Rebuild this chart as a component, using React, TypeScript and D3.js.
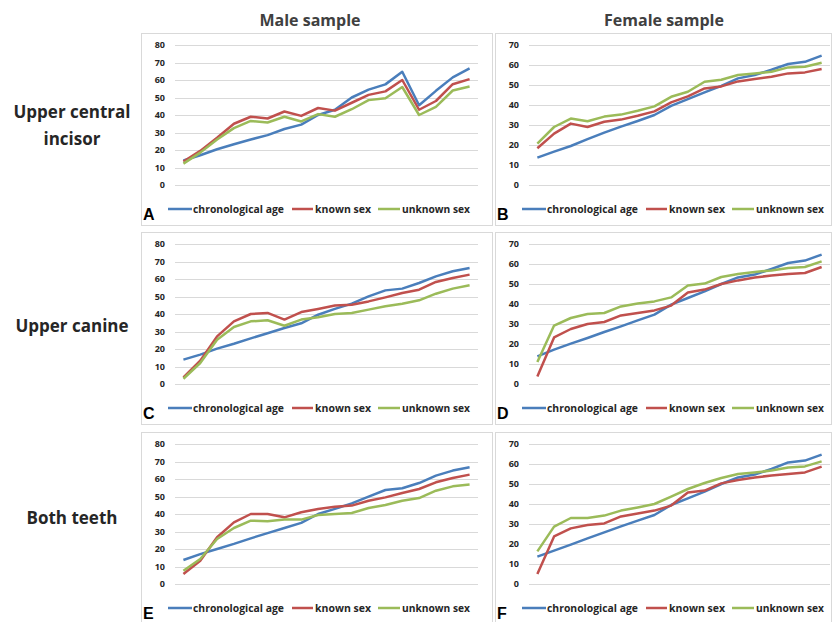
import React from "react";
import * as d3 from "d3";

// 18 age groups along the x axis (no tick labels shown)
const groups = ["1", "2", "3", "4", "5", "6", "7", "8", "9", "10", "11", "12", "13", "14", "15", "16", "17", "18"];

const seriesNames = ["chronological age", "known sex", "unknown sex"];
const seriesColors = ["#4a7ebb", "#c0504d", "#9bbb59"];

const colTitles = ["Male sample", "Female sample"];
const rowTitles = [["Upper central", "incisor"], ["Upper canine"], ["Both teeth"]];
const panelLetters = ["A", "B", "C", "D", "E", "F"];
const maleTicks = [0, 10, 20, 30, 40, 50, 60, 70, 80];
const femaleTicks = [0, 10, 20, 30, 40, 50, 60, 70];

// A - male, upper central incisor
const chronoA = [14, 17, 20.4, 23.3, 26, 28.5, 32, 34.5, 40, 43, 50, 54.5, 57.5, 64.7, 45.6, 53.8, 61.5, 66.6];
const knownA = [13.4, 19.5, 27, 35, 39, 38, 42, 39.5, 44, 42.5, 47, 51.5, 53.5, 60, 43, 48, 57.6, 60.5];
const unknownA = [12.2, 18.5, 26, 32.5, 36.6, 35.7, 39, 36.3, 40.5, 39, 43.3, 48.5, 49.6, 56, 40, 44.7, 54, 56.3];

// B - female, upper central incisor
const chronoB = [13.7, 16.7, 19.5, 22.9, 26.2, 29.2, 32, 35, 39.6, 42.9, 46.3, 49.6, 53.3, 55, 57.6, 60.5, 61.6, 64.7];
const knownB = [18.4, 25.7, 30.7, 29, 31.6, 32.7, 34.6, 36.8, 41.3, 44.3, 48.3, 49.3, 51.8, 53, 54.1, 55.8, 56.3, 58];
const unknownB = [20.7, 29, 33.2, 31.9, 34.2, 35.2, 37.1, 39.3, 44.1, 46.6, 51.6, 52.6, 55, 55.8, 56.6, 58.8, 59.1, 61.1];

// C - male, upper canine
const chronoC = [13.9, 16.8, 20.2, 23, 26.1, 29, 32, 34.7, 39.6, 42.9, 45.9, 50.1, 53.5, 54.5, 57.7, 61.5, 64.4, 66.3];
const knownC = [3.8, 13.3, 27.2, 35.8, 40, 40.6, 36.8, 41.1, 42.9, 44.8, 45.3, 47.2, 49.5, 52, 53.9, 58.3, 60.6, 62.5];
const unknownC = [3, 12, 25.3, 32.6, 35.8, 36.4, 33.3, 36.8, 38.1, 40, 40.6, 42.5, 44.4, 45.9, 47.8, 51.6, 54.5, 56.4];

// D - female, upper canine
const chronoD = [13.8, 17.2, 20.2, 23, 26, 28.8, 31.8, 34.7, 39.7, 43, 46.3, 50, 53.3, 54.7, 57.5, 60.5, 61.7, 64.7];
const knownD = [3.8, 23.3, 27.5, 30, 31, 34.3, 35.5, 36.8, 39.2, 45.8, 47.2, 50, 51.8, 53.3, 54.2, 55, 55.5, 58.5];
const unknownD = [11, 29.2, 33, 35, 35.5, 38.8, 40.2, 41.3, 43.3, 49.2, 50.2, 53.5, 55, 56, 56.8, 58, 58.5, 61.3];

// E - male, both teeth
const chronoE = [13.7, 17.1, 20, 22.9, 26.1, 29.1, 32, 34.9, 40, 42.9, 46.1, 49.9, 53.7, 54.7, 57.7, 61.9, 64.8, 66.7];
const knownE = [5.7, 13.3, 26.7, 35.2, 40, 40, 38.1, 41, 42.9, 44.2, 44.8, 47.6, 49.5, 52, 54.3, 58.1, 60.6, 62.5];
const unknownE = [7.6, 14.3, 25.7, 32, 36.2, 35.8, 36.8, 36.8, 39.4, 40, 40.6, 43.4, 45.1, 47.6, 49.1, 53.3, 55.8, 56.8];

// F - female, both teeth
const chronoF = [13.7, 16.7, 19.7, 22.8, 25.8, 28.8, 31.7, 34.5, 39.5, 42.8, 46.2, 50, 53.3, 54.7, 57.5, 60.8, 61.7, 64.7];
const knownF = [5, 23.8, 27.8, 29.5, 30.3, 33.8, 35.3, 36.7, 39.2, 45.8, 46.7, 50.3, 52, 53.3, 54.2, 55, 55.8, 58.7];
const unknownF = [16.3, 28.7, 33, 33, 34.2, 36.7, 38.3, 40, 43.7, 47.5, 50.5, 53, 55, 55.8, 56.7, 58.3, 58.8, 61.3];

const panelData = [
  [chronoA, knownA, unknownA],
  [chronoB, knownB, unknownB],
  [chronoC, knownC, unknownC],
  [chronoD, knownD, unknownD],
  [chronoE, knownE, unknownE],
  [chronoF, knownF, unknownF],
];

const W = 832;
const H = 622;
const colX = [141, 495];
const colW = [351, 336];
const rowY = [33, 232, 432];
const boxH = 192;
const font = "'Open Sans', 'Liberation Sans', sans-serif";

// legend layout offsets from the box's left edge: [line start, line end, text start, text width]
const legendLayout = [
  [27, 51, 52, 91],
  [151, 172, 174, 56],
  [237, 259, 261, 68],
];

function Panel({ idx }: { idx: number }) {
  const col = idx % 2;
  const row = Math.floor(idx / 2);
  const bx = colX[col];
  const by = rowY[row];
  const bw = colW[col];
  const ticks = col === 0 ? maleTicks : femaleTicks;

  const x = d3.scalePoint<string>()
    .domain(groups)
    .range([bx + 34, bx + 34 + (col === 0 ? 303 : 301)])
    .padding(0.5);
  const y = d3.scaleLinear()
    .domain([0, d3.max(ticks) as number])
    .range([by + 152, by + 12]);

  const line = d3.line<number>()
    .x((d, i) => x(groups[i]) as number)
    .y((d) => y(d));

  const [gx0, gx1] = x.range();
  const legendY = by + 176;

  return (
    <g>
      <rect x={bx + 0.5} y={by + 0.5} width={bw} height={boxH} fill="#fff" stroke="#d9d9d9" strokeWidth={1} />
      {ticks.map((t) => (
        <g key={t}>
          <line x1={gx0} x2={gx1} y1={Math.round(y(t)) + 0.5} y2={Math.round(y(t)) + 0.5} stroke="#d9d9d9" strokeWidth={1} />
          <text x={bx + 24} y={y(t)} dy="0.35em" textAnchor="end" fontSize={9} fontWeight="bold" fill="#262626" fontFamily={font}>
            {t}
          </text>
        </g>
      ))}
      {panelData[idx].map((vals, s) => (
        <path key={s} d={line(vals) as string} fill="none" stroke={seriesColors[s]} strokeWidth={2.5} strokeLinejoin="round" />
      ))}
      {seriesNames.map((name, s) => {
        const [l0, l1, tx, tw] = legendLayout[s];
        return (
          <g key={name}>
            <line x1={bx + l0} x2={bx + l1} y1={legendY} y2={legendY} stroke={seriesColors[s]} strokeWidth={2.5} />
            <text x={bx + tx} y={legendY} dy="0.35em" fontSize={11} fontWeight="bold" fill="#262626" fontFamily={font}
              textLength={tw} lengthAdjust="spacingAndGlyphs">
              {name}
            </text>
          </g>
        );
      })}
      <text x={bx + 2} y={by + 187} fontSize={16} fontWeight="bold" fill="#000" fontFamily="'Liberation Sans', Arial, sans-serif">
        {panelLetters[idx]}
      </text>
    </g>
  );
}

export default function App() {
  return (
    <svg width={W} height={H} style={{ position: "absolute", left: 0, top: 0, background: "#fff" }}>
      <rect width={W} height={H} fill="#fff" />
      {colTitles.map((t, i) => (
        <text key={t} x={i === 0 ? 310 : 664} y={26} textAnchor="middle" fontSize={16} fontWeight="bold" fill="#404040" fontFamily={font}>
          {t}
        </text>
      ))}
      {rowTitles.map((lines, r) => {
        const cy = r === 0 ? 126 : r === 1 ? 326 : 518;
        const startY = cy - ((lines.length - 1) * 27) / 2;
        return (
          <text key={r} textAnchor="middle" fontSize={17} fontWeight="bold" fill="#262626" fontFamily={font}>
            {lines.map((l, k) => (
              <tspan key={k} x={72} y={startY + k * 27} dy="0.35em">{l}</tspan>
            ))}
          </text>
        );
      })}
      {panelLetters.map((_, i) => (
        <Panel key={i} idx={i} />
      ))}
    </svg>
  );
}
